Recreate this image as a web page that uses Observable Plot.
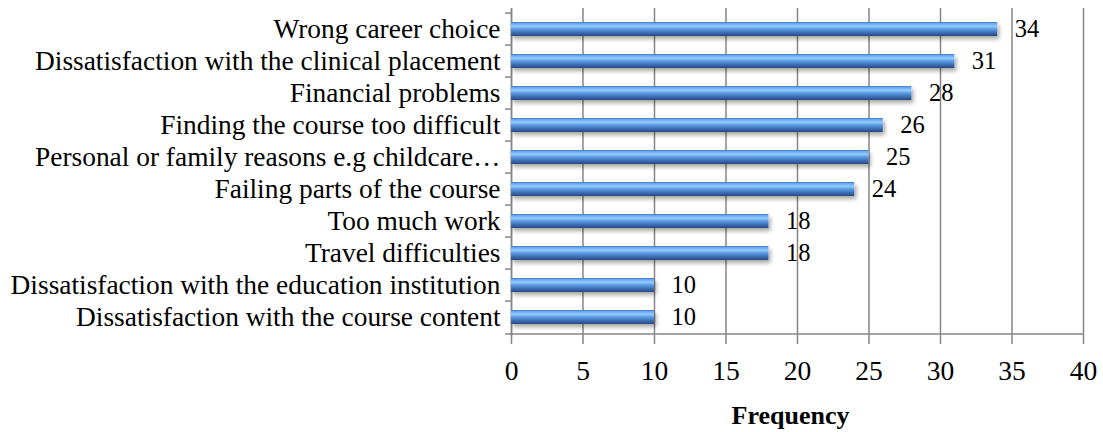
<!DOCTYPE html>
<html>
<head>
<meta charset="utf-8">
<script src="https://cdn.jsdelivr.net/npm/d3@7"></script>
<script src="https://cdn.jsdelivr.net/npm/@observablehq/plot@0.6"></script>
<style>
  html, body { margin: 0; padding: 0; background: #fff; }
</style>
</head>
<body>
<div id="chart"></div>
<script>
const categories = [
  "Wrong career choice",
  "Dissatisfaction with the clinical placement",
  "Financial problems",
  "Finding the course too difficult",
  "Personal or family reasons e.g childcare…",
  "Failing parts of the course",
  "Too much work",
  "Travel difficulties",
  "Dissatisfaction with the education institution",
  "Dissatisfaction with the course content"
];
const values = [34, 31, 28, 26, 25, 24, 18, 18, 10, 10];
const xTicks = [0, 5, 10, 15, 20, 25, 30, 35, 40];
const axisTitle = "Frequency";

const data = categories.map((c, i) => ({reason: c, freq: values[i]}));

const W = 1103, H = 432, mt = 8, mb = 95, ml = 511, mr = 20;
const step = (H - mt - mb) / categories.length;
const gray = "#868686";
const tickLen = 6 * 40 / (W - ml - mr); // 6px in data units

const svg = Plot.plot({
  width: W, height: H,
  marginLeft: ml, marginRight: mr, marginTop: mt, marginBottom: mb,
  style: {fontFamily: "'Liberation Serif', 'Times New Roman', serif", fontSize: "27.4px", color: "#000", background: "#fff", overflow: "visible"},
  x: {domain: [0, 40], ticks: xTicks},
  y: {domain: categories, padding: 0},
  marks: [
    Plot.gridX(xTicks, {stroke: gray, strokeOpacity: 1, strokeWidth: 1.5}),
    Plot.ruleX([0], {stroke: gray, strokeWidth: 1.5}),
    Plot.ruleY(categories, {y: d => d, x1: -tickLen, x2: 0, dy: -step / 2, stroke: gray, strokeWidth: 1.5, clip: false}),
    Plot.ruleY([categories[categories.length - 1]], {x1: -tickLen, x2: 40, dy: step / 2, stroke: gray, strokeWidth: 1.5}),
    Plot.barX(data, {x: "freq", y: "reason", fill: "url(#barGrad)", insetTop: 9, insetBottom: 9}),
    Plot.text(data, {x: "freq", y: "reason", text: d => String(d.freq), dx: 17, textAnchor: "start", fontSize: 24.5, fill: "#000"}),
    Plot.axisX({ticks: xTicks, tickSize: 7, tickPadding: 16, stroke: gray, strokeWidth: 1.5, fontSize: 27.5, label: null}),
    Plot.axisY({tickSize: 0, tickPadding: 11, fontSize: 27.4, label: null}),
    Plot.text([axisTitle], {frameAnchor: "bottom", dx: -7, dy: 78, lineAnchor: "middle", fontWeight: "bold", fontSize: 26, fill: "#000"})
  ]
});

// gradient + shadow definitions for the bars
const defs = d3.select(svg).insert("defs", ":first-child");
const g = defs.append("linearGradient").attr("id", "barGrad").attr("x1", 0).attr("y1", 0).attr("x2", 0).attr("y2", 1);
[[0, "#3b77c6"], [0.12, "#6eaef2"], [0.32, "#8fc8fb"], [0.5, "#5c9ae2"], [0.75, "#3e71b6"], [1, "#26487a"]]
  .forEach(([o, c]) => g.append("stop").attr("offset", o).attr("stop-color", c));
const f = defs.append("filter").attr("id", "barShadow").attr("x", "-5%").attr("y", "-50%").attr("width", "110%").attr("height", "250%");
f.append("feDropShadow").attr("dx", 2).attr("dy", 3).attr("stdDeviation", 2).attr("flood-color", "#000").attr("flood-opacity", 0.35);
d3.select(svg).selectAll("rect").filter(function() { return this.getAttribute("fill") === "url(#barGrad)" || (this.parentNode && this.parentNode.getAttribute("fill") === "url(#barGrad)"); })
  .attr("filter", "url(#barShadow)");

document.getElementById("chart").appendChild(svg);
</script>
</body>
</html>
